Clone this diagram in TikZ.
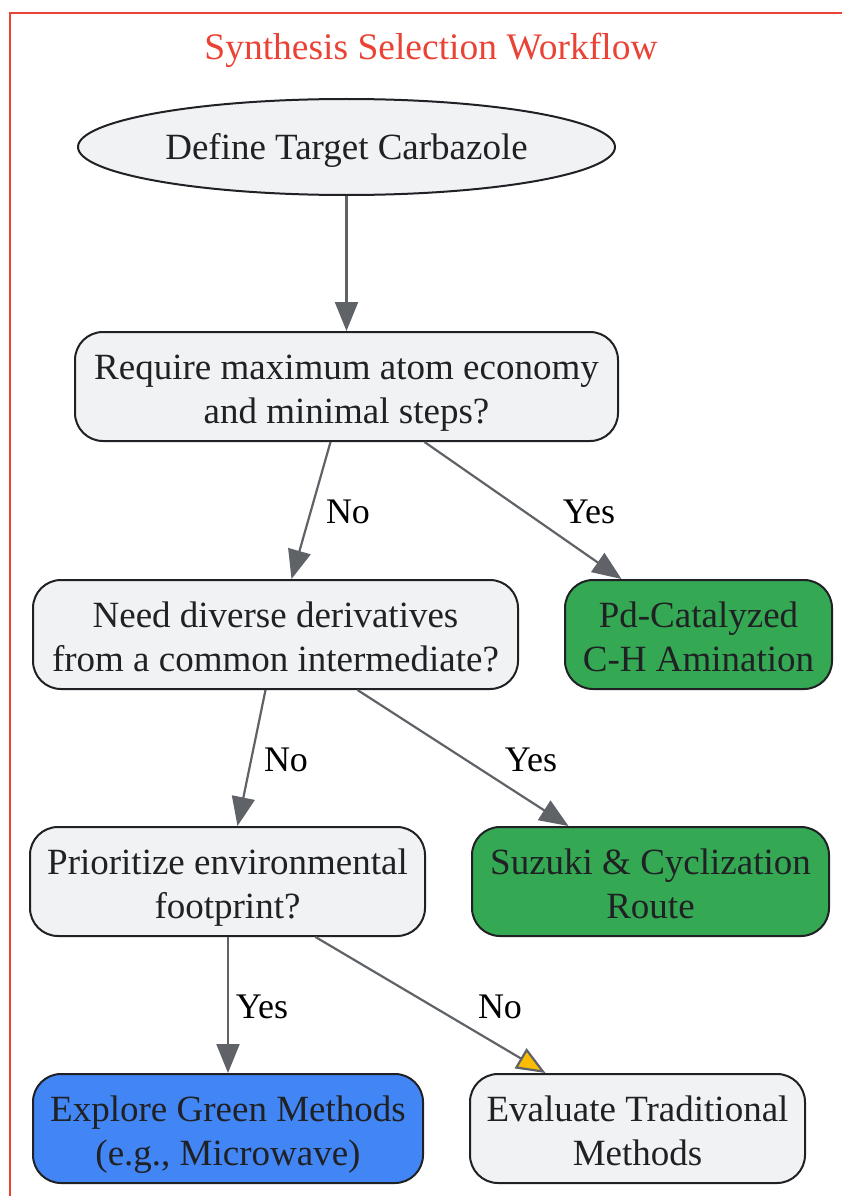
\documentclass[tikz,border=0pt]{standalone}
\usepackage{fontspec}
\setmainfont{Liberation Serif}
\usetikzlibrary{arrows.meta,shapes.geometric}
\definecolor{boxgrey}{HTML}{F1F2F4}
\definecolor{gGreen}{HTML}{34A853}
\definecolor{gBlue}{HTML}{4285F4}
\definecolor{gYellow}{HTML}{FBBC04}
\definecolor{edgegrey}{HTML}{5F6368}
\definecolor{ink}{HTML}{202124}
\definecolor{gRed}{HTML}{EA4335}
\tikzset{
  box/.style={draw=ink, line width=2pt, rounded corners=28pt, fill=boxgrey, text=ink,
    align=center, inner sep=0pt, minimum height=109pt, text height=80pt, text depth=6pt,
    font=\fontsize{37}{44}\selectfont},
  greenbox/.style={box, fill=gGreen},
  bluebox/.style={box, fill=gBlue},
  conn/.style={draw=edgegrey, line width=2.2pt, -{Triangle[length=29pt,width=23pt]}},
  lbl/.style={text=black, font=\fontsize{36}{44}\selectfont, inner sep=0pt},
}
\begin{document}
\begin{tikzpicture}[x=1pt,y=-1pt]
\useasboundingbox (0,0) rectangle (842,1196);
\draw[gRed, line width=2.2pt] (10,13) rectangle (900,1260);
\node[text=gRed, font=\fontsize{37.5}{44}\selectfont] (title) at (431,50) {Synthesis Selection Workflow};

\node[ellipse, draw=ink, line width=2pt, fill=boxgrey, text=ink, inner sep=0pt,
  minimum width=537pt, minimum height=96pt, text height=35pt, text depth=10pt,
  font=\fontsize{37}{44}\selectfont] (n1) at (346.5,147) {Define Target Carbazole};
\node[box, minimum width=543pt] (n2) at (346.5,386.5) {Require maximum atom economy\\and minimal steps?};
\node[box, minimum width=485pt] (n3) at (275.5,634.5) {Need diverse derivatives\\from a common intermediate?};
\node[greenbox, minimum width=267pt] (n4) at (698.5,634.5) {Pd-Catalyzed\\C-H Amination};
\node[box, minimum width=395pt] (n5) at (227.5,881.5) {Prioritize environmental\\footprint?};
\node[greenbox, minimum width=357pt] (n6) at (650.5,881.5) {Suzuki \& Cyclization\\Route};
\node[bluebox, minimum width=390pt] (n7) at (228,1128.5) {Explore Green Methods\\(e.g., Microwave)};
\node[box, minimum width=335pt] (n8) at (637.5,1128.5) {Evaluate Traditional\\Methods};

\draw[conn] (n1.south) -- (n2.north);
\draw[conn] ([xshift=-16pt]n2.south) -- ([xshift=16pt]n3.north);
\draw[conn] ([xshift=78pt]n2.south) -- ([xshift=-77pt]n4.north);
\draw[conn] ([xshift=-10pt]n3.south) -- ([xshift=10pt]n5.north);
\draw[conn] ([xshift=82pt]n3.south) -- ([xshift=-82pt]n6.north);
\draw[conn] ([xshift=0.5pt]n5.south) -- (n7.north);
\draw[draw=edgegrey, line width=2.2pt, -{Triangle[length=29pt,width=23pt,fill=gYellow]}] ([xshift=88pt]n5.south) -- ([xshift=-92pt]n8.north);

\node[lbl] (l1) at (348,512) {No};
\node[lbl] (l2) at (589,512) {Yes};
\node[lbl] (l3) at (286,760) {No};
\node[lbl] (l4) at (531,760) {Yes};
\node[lbl] (l5) at (262,1007) {Yes};
\node[lbl] (l6) at (500,1007) {No};
\end{tikzpicture}
\end{document}
